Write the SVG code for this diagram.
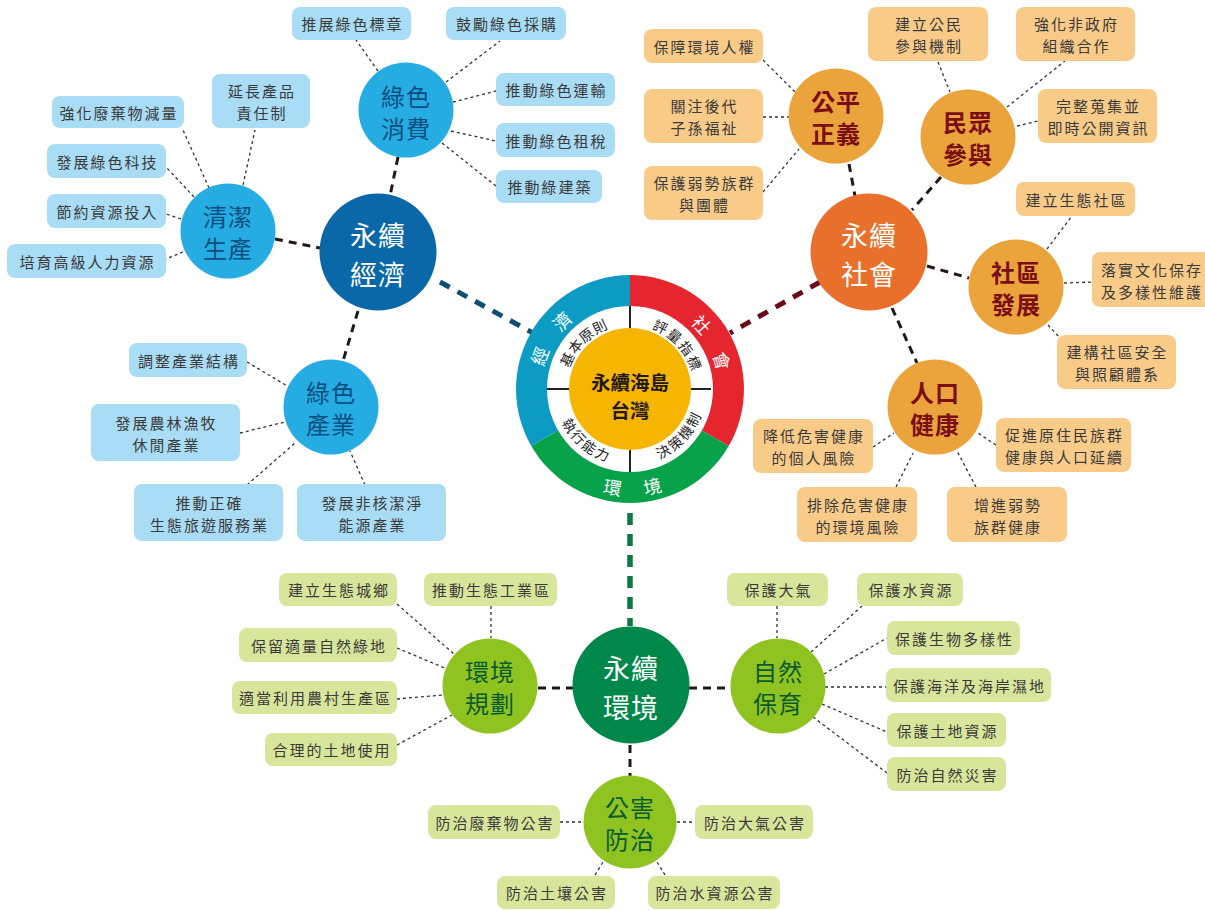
<svg xmlns="http://www.w3.org/2000/svg" width="1205" height="911" viewBox="0 0 1205 911">
<style>
text{font-family:"Noto Sans CJK TC","Noto Sans CJK SC",sans-serif;text-anchor:middle;dominant-baseline:central}
.lf{font-size:15px;letter-spacing:2px;fill:#3a3a3a}
.bb{fill:#a9dcf5}.ob{fill:#f9cb89}.gb{fill:#d7e69b}
.bc{fill:#25ade3}.oc{fill:#eba43c}.gc{fill:#8fc31f}
.bt{font-size:24px;fill:#0d4f80;letter-spacing:1px}
.ot{font-size:24px;fill:#7a0f13;font-weight:bold;letter-spacing:1px}
.gt{font-size:24px;fill:#0b5a2e;letter-spacing:1px}
.mt{font-size:27px;fill:#fff;letter-spacing:1px}
.rt{font-size:18px;fill:#fff}
.it{font-size:14px;fill:#222}
.ct{font-size:19.5px;font-weight:bold;fill:#231815}
.dot{stroke:#333;stroke-width:1.3;stroke-dasharray:3 3;fill:none}
.dash{stroke:#231815;stroke-width:3;stroke-dasharray:8 6;fill:none}
</style>
<rect width="1205" height="911" fill="#fff"/>
<g id="connectors">
<line x1="440" y1="282" x2="533" y2="333" stroke="#0d4e73" stroke-width="5" stroke-dasharray="11 9"/>
<line x1="820" y1="282" x2="730" y2="333" stroke="#6b0a18" stroke-width="5" stroke-dasharray="11 9"/>
<line x1="630" y1="513" x2="630" y2="626" stroke="#0a7a40" stroke-width="5.5" stroke-dasharray="12 9"/>
<line class="dash" x1="398" y1="157" x2="390" y2="196"/>
<line class="dash" x1="275" y1="239" x2="320" y2="248"/>
<line class="dash" x1="358" y1="311" x2="343" y2="361"/>
<line class="dash" x1="849" y1="164" x2="855" y2="196"/>
<line class="dash" x1="941" y1="177" x2="912" y2="210"/>
<line class="dash" x1="927" y1="266" x2="969" y2="278"/>
<line class="dash" x1="892" y1="308" x2="917" y2="363"/>
<line class="dash" x1="538" y1="688" x2="573" y2="688"/>
<line class="dash" x1="689" y1="688" x2="730" y2="688"/>
<line class="dash" x1="630" y1="745" x2="630" y2="776"/>
<line class="dot" x1="378" y1="71" x2="356" y2="40"/>
<line class="dot" x1="446" y1="82" x2="500" y2="41"/>
<line class="dot" x1="453" y1="102" x2="496" y2="91"/>
<line class="dot" x1="451" y1="131" x2="496" y2="141"/>
<line class="dot" x1="442" y1="143" x2="496" y2="186"/>
<line class="dot" x1="209" y1="188" x2="183" y2="130"/>
<line class="dot" x1="243" y1="185" x2="255" y2="130"/>
<line class="dot" x1="194" y1="197" x2="167" y2="168"/>
<line class="dot" x1="181" y1="219" x2="166" y2="214"/>
<line class="dot" x1="183" y1="252" x2="166" y2="259"/>
<line class="dot" x1="247" y1="362" x2="289" y2="387"/>
<line class="dot" x1="240" y1="433" x2="285" y2="422"/>
<line class="dot" x1="247" y1="485" x2="295" y2="443"/>
<line class="dot" x1="365" y1="485" x2="350" y2="451"/>
<line class="dot" x1="763" y1="60" x2="795" y2="92"/>
<line class="dot" x1="763" y1="117" x2="789" y2="117"/>
<line class="dot" x1="763" y1="192" x2="799" y2="149"/>
<line class="dot" x1="938" y1="62" x2="950" y2="92"/>
<line class="dot" x1="1007" y1="107" x2="1065" y2="61"/>
<line class="dot" x1="1017" y1="126" x2="1038" y2="121"/>
<line class="dot" x1="1047" y1="249" x2="1072" y2="216"/>
<line class="dot" x1="1064" y1="283" x2="1092" y2="282"/>
<line class="dot" x1="1048" y1="325" x2="1059" y2="337"/>
<line class="dot" x1="873" y1="447" x2="894" y2="433"/>
<line class="dot" x1="996" y1="445" x2="978" y2="433"/>
<line class="dot" x1="896" y1="487" x2="913" y2="453"/>
<line class="dot" x1="976" y1="487" x2="957" y2="451"/>
<line class="dot" x1="397" y1="604" x2="455" y2="655"/>
<line class="dot" x1="491" y1="606" x2="491" y2="638"/>
<line class="dot" x1="397" y1="648" x2="447" y2="669"/>
<line class="dot" x1="397" y1="699" x2="443" y2="695"/>
<line class="dot" x1="397" y1="745" x2="452" y2="715"/>
<line class="dot" x1="777" y1="606" x2="777" y2="638"/>
<line class="dot" x1="811" y1="652" x2="862" y2="606"/>
<line class="dot" x1="824" y1="674" x2="887" y2="638"/>
<line class="dot" x1="825" y1="687" x2="886" y2="687"/>
<line class="dot" x1="822" y1="704" x2="887" y2="732"/>
<line class="dot" x1="813" y1="717" x2="887" y2="773"/>
<line class="dot" x1="560" y1="822" x2="583" y2="822"/>
<line class="dot" x1="677" y1="822" x2="695" y2="822"/>
<line class="dot" x1="595" y1="875" x2="603" y2="862"/>
<line class="dot" x1="665" y1="875" x2="657" y2="862"/>
</g>
<g id="hub">
<path d="M630,389 L531.3,446 A114,114 0 0 1 630,275 Z" fill="#0c9cc3"/>
<path d="M630,389 L630,275 A114,114 0 0 1 728.7,446 Z" fill="#e5262f"/>
<path d="M630,389 L728.7,446 A114,114 0 0 1 531.3,446 Z" fill="#07a24a"/>
<circle cx="630" cy="389" r="83" fill="#fff"/>
<circle cx="630" cy="389" r="61" fill="#f6b500"/>
<g stroke="#222" stroke-width="2">
<line x1="630" y1="306" x2="630" y2="328"/>
<line x1="547" y1="389" x2="569" y2="389"/>
<line x1="711" y1="389" x2="691" y2="389"/>
<line x1="630" y1="450" x2="630" y2="472"/>
</g>
<text class="ct" x="630" y="381">永續海島</text>
<text class="ct" x="630" y="409.5">台灣</text>
<text class="rt" x="538.8" y="355.8" transform="rotate(290 538.8 355.8)">經</text>
<text class="rt" x="561.4" y="320.4" transform="rotate(315 561.4 320.4)">濟</text>
<text class="rt" x="702.1" y="324.1" transform="rotate(48 702.1 324.1)">社</text>
<text class="rt" x="722.8" y="360.6" transform="rotate(73 722.8 360.6)">會</text>
<text class="rt" x="612.8" y="486.5" transform="rotate(10 612.8 486.5)">環</text>
<text class="rt" x="652.3" y="485.5" transform="rotate(-13 652.3 485.5)">境</text>
<text class="it" x="566.6" y="359.4" transform="rotate(295 566.6 359.4)">基</text>
<text class="it" x="574.8" y="345.9" transform="rotate(308 574.8 345.9)">本</text>
<text class="it" x="585.9" y="334.6" transform="rotate(321 585.9 334.6)">原</text>
<text class="it" x="599.3" y="326.1" transform="rotate(334 599.3 326.1)">則</text>
<text class="it" x="660.7" y="326.1" transform="rotate(26 660.7 326.1)">評</text>
<text class="it" x="675.0" y="335.4" transform="rotate(40 675.0 335.4)">量</text>
<text class="it" x="686.6" y="347.9" transform="rotate(54 686.6 347.9)">指</text>
<text class="it" x="694.9" y="362.8" transform="rotate(68 694.9 362.8)">標</text>
<text class="it" x="662.9" y="450.8" transform="rotate(-28 662.9 450.8)">決</text>
<text class="it" x="675.0" y="442.6" transform="rotate(-40 675.0 442.6)">策</text>
<text class="it" x="685.2" y="432.1" transform="rotate(-52 685.2 432.1)">機</text>
<text class="it" x="692.9" y="419.7" transform="rotate(-64 692.9 419.7)">制</text>
<text class="it" x="570.0" y="425.1" transform="rotate(59 570.0 425.1)">執</text>
<text class="it" x="578.8" y="436.7" transform="rotate(47 578.8 436.7)">行</text>
<text class="it" x="589.8" y="446.3" transform="rotate(35 589.8 446.3)">能</text>
<text class="it" x="602.6" y="453.4" transform="rotate(23 602.6 453.4)">力</text>
</g>
<g id="economy">
<circle cx="378" cy="252" r="58.5" fill="#0b68a8"/>
<text class="mt" x="378" y="234">永續</text><text class="mt" x="378" y="273">經濟</text>
</g>
<g id="society">
<circle cx="869" cy="252" r="58.5" fill="#e8702b"/>
<text class="mt" x="869" y="234">永續</text><text class="mt" x="869" y="273">社會</text>
</g>
<g id="environment">
<circle cx="631" cy="685" r="58.5" fill="#00874a"/>
<text class="mt" x="631" y="667">永續</text><text class="mt" x="631" y="706">環境</text>
</g>
<g id="green-consumption"><circle class="bc" cx="406" cy="110" r="47.5"/><text class="bt" x="406" y="95">綠色</text><text class="bt" x="406" y="127">消費</text></g>
<g id="clean-production"><circle class="bc" cx="228" cy="231" r="47.5"/><text class="bt" x="228" y="215">清潔</text><text class="bt" x="228" y="247">生產</text></g>
<g id="green-industry"><circle class="bc" cx="331" cy="407" r="47.5"/><text class="bt" x="331" y="391">綠色</text><text class="bt" x="331" y="423">產業</text></g>
<g id="justice"><circle class="oc" cx="836" cy="116" r="47.5"/><text class="ot" x="836" y="100">公平</text><text class="ot" x="836" y="132">正義</text></g>
<g id="participation"><circle class="oc" cx="968" cy="137" r="47.5"/><text class="ot" x="968" y="121">民眾</text><text class="ot" x="968" y="153">參與</text></g>
<g id="community"><circle class="oc" cx="1016" cy="287" r="47.5"/><text class="ot" x="1016" y="271">社區</text><text class="ot" x="1016" y="303">發展</text></g>
<g id="health"><circle class="oc" cx="935" cy="407" r="47.5"/><text class="ot" x="935" y="391">人口</text><text class="ot" x="935" y="423">健康</text></g>
<g id="planning"><circle class="gc" cx="490" cy="686" r="47.5"/><text class="gt" x="490" y="670">環境</text><text class="gt" x="490" y="702">規劃</text></g>
<g id="conservation"><circle class="gc" cx="778" cy="686" r="47.5"/><text class="gt" x="778" y="670">自然</text><text class="gt" x="778" y="702">保育</text></g>
<g id="pollution"><circle class="gc" cx="630" cy="822" r="46.5"/><text class="gt" x="630" y="806">公害</text><text class="gt" x="630" y="838">防治</text></g>
<g id="leaves-blue">
<g id="b1"><rect class="bb" x="292" y="7" width="119" height="33" rx="8"/><text class="lf" x="352.5" y="23.5">推展綠色標章</text></g>
<g id="b2"><rect class="bb" x="446" y="7" width="120" height="33" rx="8"/><text class="lf" x="507" y="23.5">鼓勵綠色採購</text></g>
<g id="b3"><rect class="bb" x="496" y="73" width="119" height="33" rx="8"/><text class="lf" x="556.5" y="89.5">推動綠色運輸</text></g>
<g id="b4"><rect class="bb" x="496" y="123" width="119" height="34" rx="8"/><text class="lf" x="556.5" y="140">推動綠色租稅</text></g>
<g id="b5"><rect class="bb" x="496" y="170" width="106" height="33" rx="8"/><text class="lf" x="550" y="186.5">推動綠建築</text></g>
<g id="b6"><rect class="bb" x="212" y="74" width="98" height="54" rx="8"/><text class="lf" x="262" y="90">延長產品</text><text class="lf" x="262" y="112">責任制</text></g>
<g id="b7"><rect class="bb" x="52" y="96" width="132" height="32" rx="8"/><text class="lf" x="119" y="112">強化廢棄物減量</text></g>
<g id="b8"><rect class="bb" x="47" y="144" width="119" height="34" rx="8"/><text class="lf" x="107.5" y="161">發展綠色科技</text></g>
<g id="b9"><rect class="bb" x="47" y="194" width="119" height="34" rx="8"/><text class="lf" x="107.5" y="211">節約資源投入</text></g>
<g id="b10"><rect class="bb" x="7" y="244" width="159" height="34" rx="8"/><text class="lf" x="87.5" y="261">培育高級人力資源</text></g>
<g id="b11"><rect class="bb" x="129" y="343" width="118" height="34" rx="8"/><text class="lf" x="189" y="360">調整產業結構</text></g>
<g id="b12"><rect class="bb" x="91" y="404" width="149" height="57" rx="8"/><text class="lf" x="166.5" y="422">發展農林漁牧</text><text class="lf" x="166.5" y="444">休閒產業</text></g>
<g id="b13"><rect class="bb" x="134" y="484" width="149" height="57" rx="8"/><text class="lf" x="209.5" y="502">推動正確</text><text class="lf" x="209.5" y="524">生態旅遊服務業</text></g>
<g id="b14"><rect class="bb" x="297" y="484" width="149" height="57" rx="8"/><text class="lf" x="372.5" y="502">發展非核潔淨</text><text class="lf" x="372.5" y="524">能源產業</text></g>
</g>
<g id="leaves-orange">
<g id="o1"><rect class="ob" x="644" y="29" width="119" height="34" rx="8"/><text class="lf" x="704.5" y="46">保障環境人權</text></g>
<g id="o2"><rect class="ob" x="644" y="89" width="119" height="54" rx="8"/><text class="lf" x="704.5" y="105">關注後代</text><text class="lf" x="704.5" y="127">子孫福祉</text></g>
<g id="o3"><rect class="ob" x="644" y="166" width="119" height="54" rx="8"/><text class="lf" x="704.5" y="182">保護弱勢族群</text><text class="lf" x="704.5" y="204">與團體</text></g>
<g id="o4"><rect class="ob" x="868" y="7" width="120" height="54" rx="8"/><text class="lf" x="929" y="23">建立公民</text><text class="lf" x="929" y="45">參與機制</text></g>
<g id="o5"><rect class="ob" x="1016" y="7" width="119" height="54" rx="8"/><text class="lf" x="1076.5" y="23">強化非政府</text><text class="lf" x="1076.5" y="45">組織合作</text></g>
<g id="o6"><rect class="ob" x="1038" y="89" width="119" height="54" rx="8"/><text class="lf" x="1098.5" y="105">完整蒐集並</text><text class="lf" x="1098.5" y="127">即時公開資訊</text></g>
<g id="o7"><rect class="ob" x="1016" y="182" width="119" height="34" rx="8"/><text class="lf" x="1076.5" y="199">建立生態社區</text></g>
<g id="o8"><rect class="ob" x="1092" y="252" width="126" height="55" rx="8"/><text class="lf" x="1152" y="269">落實文化保存</text><text class="lf" x="1152" y="291">及多樣性維護</text></g>
<g id="o9"><rect class="ob" x="1057" y="335" width="119" height="54" rx="8"/><text class="lf" x="1117.5" y="351">建構社區安全</text><text class="lf" x="1117.5" y="373">與照顧體系</text></g>
<g id="o10"><rect class="ob" x="753" y="419" width="120" height="54" rx="8"/><text class="lf" x="814" y="435">降低危害健康</text><text class="lf" x="814" y="457">的個人風險</text></g>
<g id="o11"><rect class="ob" x="996" y="418" width="135" height="54" rx="8"/><text class="lf" x="1064.5" y="434">促進原住民族群</text><text class="lf" x="1064.5" y="456">健康與人口延續</text></g>
<g id="o12"><rect class="ob" x="797" y="487" width="120" height="55" rx="8"/><text class="lf" x="858" y="504">排除危害健康</text><text class="lf" x="858" y="526">的環境風險</text></g>
<g id="o13"><rect class="ob" x="947" y="487" width="120" height="55" rx="8"/><text class="lf" x="1008" y="504">增進弱勢</text><text class="lf" x="1008" y="526">族群健康</text></g>
</g>
<g id="leaves-green">
<g id="g1"><rect class="gb" x="279" y="573" width="118" height="33" rx="8"/><text class="lf" x="339" y="589.5">建立生態城鄉</text></g>
<g id="g2"><rect class="gb" x="424" y="573" width="133" height="33" rx="8"/><text class="lf" x="491.5" y="589.5">推動生態工業區</text></g>
<g id="g3"><rect class="gb" x="239" y="628" width="158" height="34" rx="8"/><text class="lf" x="319" y="645">保留適量自然綠地</text></g>
<g id="g4"><rect class="gb" x="232" y="681" width="165" height="33" rx="8"/><text class="lf" x="315.5" y="697.5">適當利用農村生產區</text></g>
<g id="g5"><rect class="gb" x="265" y="733" width="132" height="33" rx="8"/><text class="lf" x="332" y="749.5">合理的土地使用</text></g>
<g id="g6"><rect class="gb" x="727" y="573" width="101" height="33" rx="8"/><text class="lf" x="778.5" y="589.5">保護大氣</text></g>
<g id="g7"><rect class="gb" x="857" y="573" width="106" height="33" rx="8"/><text class="lf" x="911" y="589.5">保護水資源</text></g>
<g id="g8"><rect class="gb" x="887" y="621" width="133" height="34" rx="8"/><text class="lf" x="954.5" y="638">保護生物多樣性</text></g>
<g id="g9"><rect class="gb" x="886" y="668" width="165" height="34" rx="8"/><text class="lf" x="969.5" y="685">保護海洋及海岸濕地</text></g>
<g id="g10"><rect class="gb" x="887" y="713" width="119" height="34" rx="8"/><text class="lf" x="947.5" y="730">保護土地資源</text></g>
<g id="g11"><rect class="gb" x="887" y="757" width="119" height="34" rx="8"/><text class="lf" x="947.5" y="774">防治自然災害</text></g>
<g id="g12"><rect class="gb" x="428" y="805" width="132" height="34" rx="8"/><text class="lf" x="495" y="822">防治廢棄物公害</text></g>
<g id="g13"><rect class="gb" x="695" y="805" width="118" height="34" rx="8"/><text class="lf" x="755" y="822">防治大氣公害</text></g>
<g id="g14"><rect class="gb" x="497" y="876" width="118" height="33" rx="8"/><text class="lf" x="557" y="892.5">防治土壤公害</text></g>
<g id="g15"><rect class="gb" x="648" y="876" width="132" height="33" rx="8"/><text class="lf" x="715" y="892.5">防治水資源公害</text></g>
</g>
</svg>
